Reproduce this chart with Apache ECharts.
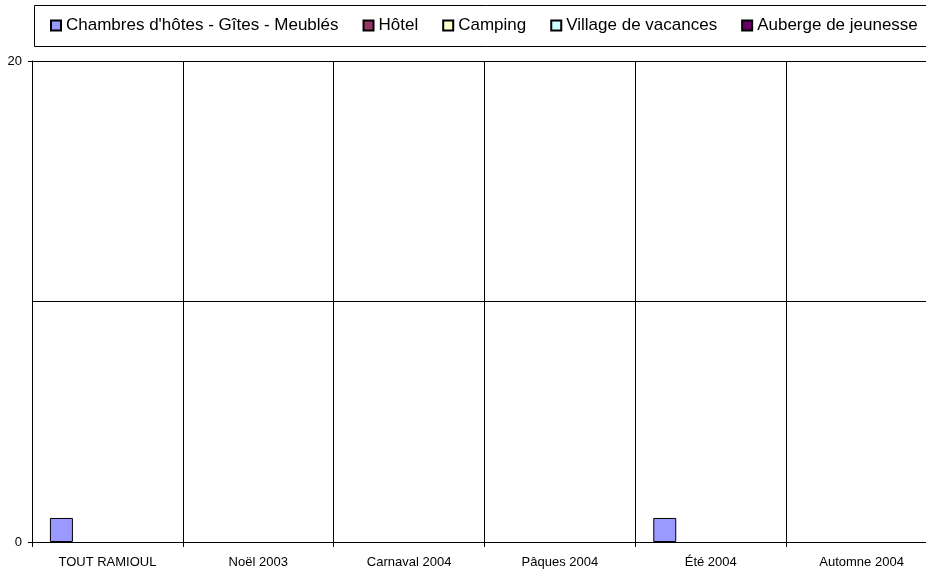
<!DOCTYPE html>
<html>
<head>
<meta charset="utf-8">
<script src="https://cdn.jsdelivr.net/npm/echarts@6/dist/echarts.min.js"></script>
<style>
html,body{margin:0;padding:0;background:#fff;overflow:hidden;width:926px;height:571px;}
#chart{width:937px;height:571px;}
</style>
</head>
<body>
<div id="chart"></div>
<script>
var categories = ['TOUT RAMIOUL', 'Noël 2003', 'Carnaval 2004', 'Pâques 2004', 'Été 2004', 'Automne 2004'];
var seriesNames = ["Chambres d'hôtes - Gîtes - Meublés", 'Hôtel', 'Camping', 'Village de vacances', 'Auberge de jeunesse'];
var chambres = [1, 0, 0, 0, 1, 0];
var hotel = [0, 0, 0, 0, 0, 0];
var camping = [0, 0, 0, 0, 0, 0];
var village = [0, 0, 0, 0, 0, 0];
var auberge = [0, 0, 0, 0, 0, 0];
var yLabels = [0, 20];

var colors = ['#9999FF', '#993366', '#FFFFCC', '#CCFFFF', '#660066'];
var values = [chambres, hotel, camping, village, auberge];
var font = '"Liberation Sans", Arial, sans-serif';

var chart = echarts.init(document.getElementById('chart'), null, {renderer: 'canvas'});
chart.setOption({
  animation: false,
  backgroundColor: '#fff',
  textStyle: {fontFamily: font},
  color: colors,
  graphic: [{
    type: 'rect',
    shape: {x: 34.5, y: 5.5, width: 920, height: 41},
    style: {fill: 'none', stroke: '#000', lineWidth: 1},
    z: -1
  }],
  legend: {
    left: 50,
    top: 17,
    padding: 0,
    itemWidth: 10,
    itemHeight: 10,
    itemGap: 24,
    icon: 'rect',
    textStyle: {fontSize: 17, color: '#000', fontFamily: font},
    data: seriesNames
  },
  grid: {left: 32, right: 0, top: 61, bottom: 29, containLabel: false},
  xAxis: {
    type: 'category',
    data: categories,
    boundaryGap: true,
    axisLine: {show: true, lineStyle: {color: '#000', width: 1}},
    axisTick: {show: true, interval: 0, length: 5, lineStyle: {color: '#000'}},
    axisLabel: {interval: 0, fontSize: 13, color: '#000', margin: 14, fontFamily: font},
    splitLine: {show: true, interval: 0, lineStyle: {color: '#000', width: 1}}
  },
  yAxis: [{
    type: 'value',
    min: 0,
    max: 20,
    interval: 10,
    position: 'left',
    axisLine: {show: true, lineStyle: {color: '#000', width: 1}},
    axisTick: {show: false},
    axisLabel: {show: false},
    splitLine: {show: true, lineStyle: {color: '#000', width: 1}}
  }, {
    type: 'value',
    min: 0,
    max: 20,
    interval: 10,
    position: 'left',
    offset: 0,
    axisLine: {show: false},
    axisTick: {show: true, length: 4, lineStyle: {color: '#000'}, customValues: yLabels},
    axisLabel: {
      fontSize: 13, color: '#000', margin: 10, fontFamily: font,
      customValues: yLabels,
      formatter: function (v) { return yLabels.indexOf(v) >= 0 ? String(v) : ''; }
    },
    splitLine: {show: false}
  }],
  series: seriesNames.map(function (name, i) {
    return {
      name: name,
      type: 'bar',
      yAxisIndex: 0,
      data: values[i].map(function (v) {
        return v === 0 ? {value: v, itemStyle: {borderWidth: 0}} : v;
      }),
      barWidth: 23,
      barGap: '0%',
      itemStyle: {color: colors[i], borderColor: '#000', borderWidth: 1}
    };
  })
});
</script>
</body>
</html>
